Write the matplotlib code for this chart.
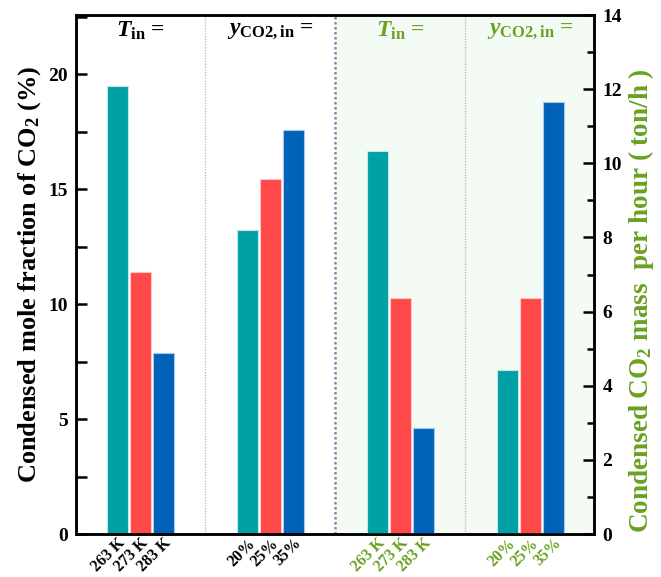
import matplotlib
matplotlib.use("Agg")
import matplotlib.pyplot as plt
import numpy as np
from matplotlib.ticker import MultipleLocator

plt.rcParams['font.family'] = ['Liberation Serif', 'DejaVu Serif']
plt.rcParams['font.weight'] = 'bold'
plt.rcParams['axes.labelweight'] = 'bold'
plt.rcParams['mathtext.fontset'] = 'custom'
plt.rcParams['mathtext.rm'] = 'Liberation Serif:bold'
plt.rcParams['mathtext.it'] = 'Liberation Serif:italic:bold'
plt.rcParams['mathtext.bf'] = 'Liberation Serif:bold'

# Data
temp_labels = ['263 K', '273 K', '283 K']
conc_labels = ['20%', '25%', '35%']
mole_frac_T = [19.5, 11.4, 7.85]          # left axis, %
mole_frac_y = [13.23, 15.42, 17.55]       # left axis, %
mass_T = [10.34, 6.37, 2.85]              # right axis, ton/h
mass_y = [4.42, 6.37, 11.66]              # right axis, ton/h

colors = ['#00A0A4', '#FF4848', '#0062B8']
edge_colors = ['#BFE8E8', '#FFC8C8', '#A8C8EC']
green = '#6AA121'

fig = plt.figure(figsize=(6.61, 5.77), dpi=100)
ax = fig.add_axes([0.115, 0.0745, 0.7836, 0.8995])
ax2 = ax.twinx()

width = 0.158
offs = np.array([-1, 0, 1]) * 0.177

# shaded region
ax.axvspan(1.5, 3.6, color='#F4FBF4', zorder=0, lw=0)

for i in range(3):
    ax.bar(0 + offs[i], mole_frac_T[i], width, color=colors[i], edgecolor=edge_colors[i], lw=0.8, zorder=2)
    ax.bar(1 + offs[i], mole_frac_y[i], width, color=colors[i], edgecolor=edge_colors[i], lw=0.8, zorder=2)
    ax2.bar(2 + offs[i], mass_T[i], width, color=colors[i], edgecolor=edge_colors[i], lw=0.8, zorder=2)
    ax2.bar(3 + offs[i], mass_y[i], width, color=colors[i], edgecolor=edge_colors[i], lw=0.8, zorder=2)

ax.axvline(0.5, color='#BBBBBB', ls=(0, (1, 1)), lw=1.0, zorder=1)
ax.axvline(2.5, color='#BBBBBB', ls=(0, (1, 1)), lw=1.0, zorder=1)
ax.axvline(1.5, color='#8A88AA', ls=(0, (1, 1)), lw=1.8, zorder=1)

ax.set_xlim(-0.496, 3.49)
ax.set_ylim(0, 22.57)
ax2.set_ylim(0, 14)

ax.yaxis.set_major_locator(MultipleLocator(5))
ax.yaxis.set_minor_locator(MultipleLocator(2.5))
ax2.yaxis.set_major_locator(MultipleLocator(2))
ax2.yaxis.set_minor_locator(MultipleLocator(1))

for a in (ax, ax2):
    for s in a.spines.values():
        s.set_linewidth(1.8)
ax.tick_params(axis='y', which='major', direction='in', length=8, width=1.8, labelsize=14, pad=6)
ax.tick_params(axis='y', which='minor', direction='in', length=8, width=1.8)
ax2.tick_params(axis='y', which='major', direction='in', length=8, width=1.8, labelsize=14, pad=6)
ax2.tick_params(axis='y', which='minor', direction='in', length=5, width=1.8)

# x tick labels
xt = []
xl = []
xc = []
for g, labs in enumerate([temp_labels, conc_labels, temp_labels, conc_labels]):
    for i in range(3):
        xt.append(g + offs[i])
        xl.append(labs[i])
        xc.append('black' if g < 2 else green)
ax.set_xticks(xt)
ax.set_xticklabels(xl, rotation=45, ha='right', rotation_mode='anchor', fontsize=11.5, fontweight='bold')
for lab, c in zip(ax.get_xticklabels(), xc):
    lab.set_color(c)
ax.tick_params(axis='x', length=0, pad=1)

# headers
hdrs = [r'$T_{\mathbf{in}}$ =', r'$y_{\mathbf{CO2,in}}$ =', r'$T_{\mathbf{in}}$ =', r'$y_{\mathbf{CO2,in}}$ =']
for g, h in enumerate(hdrs):
    ax.text(g, 22.35, h, ha='center', va='top', fontsize=17, fontweight='bold',
            color='black' if g < 2 else green)

ax.set_ylabel(r'Condensed mole fraction of CO$_\mathbf{2}$ (%)', fontsize=19, fontweight='bold', labelpad=4)
ax2.set_ylabel(r'Condensed CO$_\mathbf{2}$ mass  per hour ( ton/h )', fontsize=19.5, fontweight='bold',
               color=green, labelpad=4)
ax2.yaxis.set_label_coords(1.062, 0.45)

fig.savefig('out.png', dpi=100)
